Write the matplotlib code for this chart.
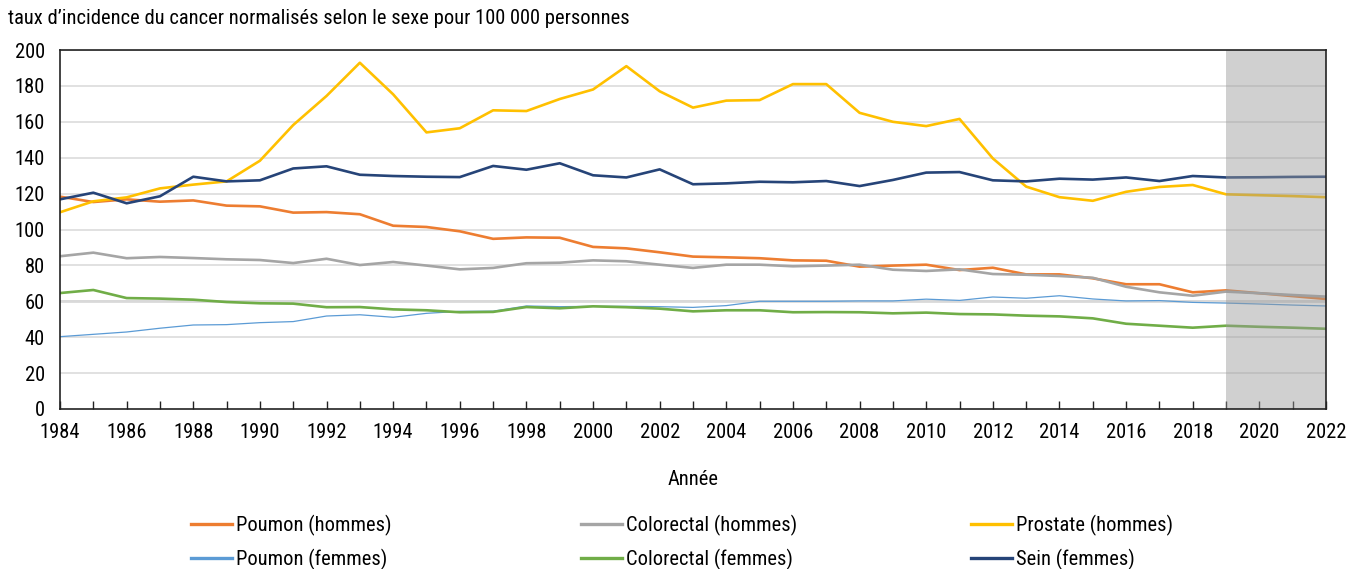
import matplotlib
matplotlib.use("Agg")
import matplotlib.pyplot as plt
from matplotlib import font_manager
from matplotlib.lines import Line2D

# police étroite si disponible, sinon Liberation Sans
installed = {f.name for f in font_manager.fontManager.ttflist}
narrow = None
for cand in ['Liberation Sans Narrow', 'DejaVu Sans Condensed', 'Roboto Condensed', 'Open Sans Condensed']:
    if cand in installed:
        narrow = cand
        break
if narrow:
    plt.rcParams['font.family'] = [narrow, 'DejaVu Sans']
    fs = 14.8
else:
    plt.rcParams['font.family'] = ['Liberation Sans', 'DejaVu Sans']
    fs = 13

years = list(range(1984, 2023))

# taux pour 100 000 ; 2019-2022 = projections
poumon_h = [118.3, 115.3, 116.8, 115.5, 116.2, 113.3, 112.9, 109.4, 109.7, 108.5,
            102.1, 101.4, 99.0, 94.8, 95.6, 95.4, 90.3, 89.5, 87.3, 84.9,
            84.5, 84.0, 82.8, 82.6, 79.3, 79.9, 80.4, 77.4, 78.7, 75.0,
            75.0, 72.8, 69.5, 69.5, 65.0, 66.1, 64.5, 62.9, 61.3]
colorectal_h = [85.1, 87.1, 84.0, 84.7, 84.1, 83.4, 83.0, 81.3, 83.7, 80.2,
                81.9, 79.9, 77.8, 78.6, 81.2, 81.5, 82.8, 82.3, 80.4, 78.6,
                80.4, 80.4, 79.5, 79.9, 80.4, 77.6, 76.9, 77.8, 75.2, 74.8,
                74.1, 73.1, 68.1, 65.0, 63.1, 65.4, 64.5, 63.5, 62.6]
prostate_h = [109.6, 115.7, 117.9, 122.9, 125.0, 126.8, 138.3, 158.2, 174.4, 192.9,
              175.3, 154.1, 156.4, 166.4, 166.0, 172.7, 178.0, 191.0, 177.0, 167.9,
              171.8, 172.1, 181.0, 181.0, 165.0, 160.0, 157.6, 161.6, 139.6, 123.9,
              118.0, 116.0, 121.0, 123.7, 124.8, 119.6, 119.1, 118.6, 118.0]
poumon_f = [40.3, 41.6, 42.9, 45.0, 46.8, 47.0, 48.1, 48.7, 51.8, 52.5,
            51.1, 53.3, 54.4, 54.5, 57.4, 57.0, 57.2, 57.2, 57.0, 56.6,
            57.6, 60.0, 60.0, 60.0, 60.2, 60.2, 61.2, 60.5, 62.4, 61.7,
            63.1, 61.3, 60.2, 60.4, 59.4, 59.0, 58.5, 57.9, 57.4]
colorectal_f = [64.6, 66.3, 61.8, 61.5, 60.9, 59.6, 58.9, 58.7, 56.7, 56.8,
                55.5, 55.0, 53.9, 54.1, 56.8, 56.1, 57.2, 56.7, 55.9, 54.4,
                55.0, 55.0, 53.9, 54.0, 53.9, 53.3, 53.7, 52.9, 52.7, 52.0,
                51.6, 50.5, 47.5, 46.4, 45.3, 46.4, 45.8, 45.3, 44.7]
sein_f = [116.8, 120.5, 114.6, 118.5, 129.4, 126.8, 127.4, 134.0, 135.2, 130.5,
          129.8, 129.4, 129.2, 135.4, 133.3, 136.9, 130.2, 129.0, 133.5, 125.2,
          125.7, 126.6, 126.3, 127.0, 124.2, 127.6, 131.7, 132.0, 127.4, 126.8,
          128.3, 127.8, 129.0, 127.0, 129.8, 129.0, 129.1, 129.3, 129.4]

series = [
    ("Poumon (hommes)", poumon_h, "#ED7D31", 1.9),
    ("Colorectal (hommes)", colorectal_h, "#A5A5A5", 1.9),
    ("Prostate (hommes)", prostate_h, "#FFC000", 1.9),
    ("Poumon (femmes)", poumon_f, "#5B9BD5", 0.9),
    ("Colorectal (femmes)", colorectal_f, "#70AD47", 1.9),
    ("Sein (femmes)", sein_f, "#264478", 1.9),
]

fig = plt.figure(figsize=(13.59, 5.69), dpi=100)
ax = fig.add_axes([60 / 1359, 1 - 409 / 569, (1326 - 60) / 1359, (409 - 50) / 569])

for y in range(20, 201, 20):
    ax.axhline(y, color="#D9D9D9", lw=1.1, zorder=0)
ax.axhline(60, color="#D9D9D9", lw=2.0, zorder=0)

handles = []
for name, vals, col, lw in series:
    ax.plot(years, vals, color=col, lw=lw, zorder=2)
    handles.append(Line2D([], [], color=col, lw=2.4, label=name))

# zone de projection
ax.axvspan(2019, 2022, color="#989898", alpha=0.45, lw=0, zorder=3)

ax.set_xlim(1984, 2022)
ax.set_ylim(0, 200)
ax.set_yticks(range(0, 201, 20))
ax.set_xticks(years, minor=True)
ax.set_xticks(range(1984, 2023, 2))
ax.tick_params(axis="y", length=0, labelsize=fs, pad=11)
ax.tick_params(axis="x", which="both", direction="in", length=6, width=1,
               labelsize=fs, pad=10, color="#222222")
for s in ax.spines.values():
    s.set_color("#222222")
    s.set_linewidth(1.2)
    s.set_zorder(4)

ax.set_xlabel("Année", fontsize=fs, labelpad=20)
fig.text(8 / 1359, 1 - 18 / 569, "taux d\u2019incidence du cancer normalisés selon le sexe pour 100 000 personnes",
         fontsize=fs, va="center", ha="left")

cols = [(handles[0], handles[3]), (handles[1], handles[4]), (handles[2], handles[5])]
for i, pair in enumerate(cols):
    x0 = [183, 573, 963][i] / 1359
    fig.legend(handles=list(pair), loc="upper left", bbox_to_anchor=(x0, 1 - 507 / 569),
               frameon=False, fontsize=fs, handlelength=2.0, handletextpad=0.2,
               labelspacing=0.62, borderaxespad=0)

fig.savefig("out.png", dpi=100)
